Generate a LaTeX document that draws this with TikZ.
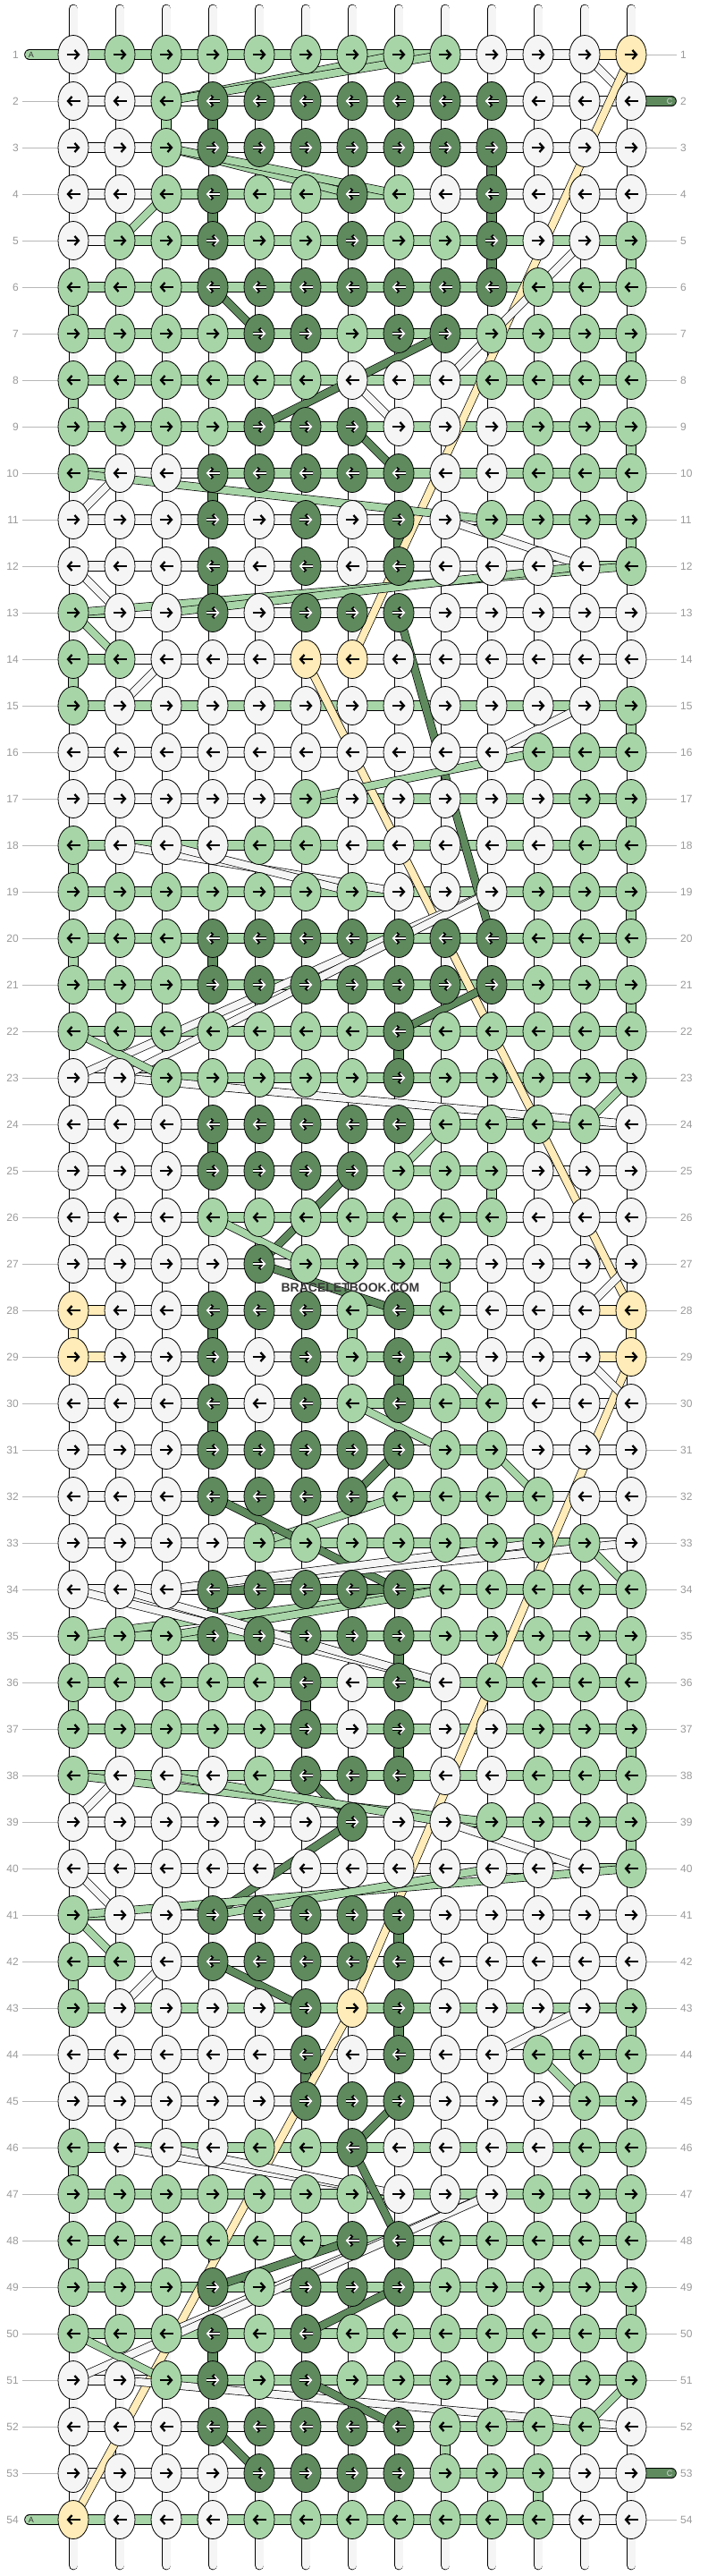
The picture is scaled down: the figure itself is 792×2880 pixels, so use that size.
\documentclass[tikz,border=0pt]{standalone}
\usepackage{fontspec}
\setmainfont{Liberation Sans}
\usetikzlibrary{arrows.meta,shapes.geometric}
\definecolor{kW}{HTML}{F5F5F5}
\definecolor{kG}{HTML}{A8D5A8}
\definecolor{kD}{HTML}{5E8A5E}
\definecolor{kY}{HTML}{FFECB8}
\definecolor{labgray}{HTML}{9A9A9A}
\pgfdeclarelayer{bg}
\pgfdeclarelayer{tubes}
\pgfdeclarelayer{bars}
\pgfdeclarelayer{diag}
\pgfsetlayers{bg,tubes,bars,diag,main}
\newcount\kc
\tikzset{
 knot/.style={ellipse,draw,line width=0.8pt,minimum width=34pt,minimum height=43pt,inner sep=0pt},
 bar/.style={line width=0.8pt,double=#1,double distance=10pt},
 diag/.style={line width=0.7pt,double=#1,double distance=8pt},
 tube/.style={line width=0.8pt,double=kW,double distance=9pt,line cap=round},
 arrb/.style={line width=2.3pt,black,-{Straight Barb[length=4.5pt,width=10pt]}},
 arrw/.style={line width=1.5pt,white,-{Straight Barb[length=4.5pt,width=10pt]}},
 arro/.style={line width=3.7pt,black,-{Straight Barb[length=5pt,width=11.5pt]}},
 lab/.style={text=labgray,font=\fontsize{12}{12}\selectfont,inner sep=0pt},
 glines/.style={draw=labgray!70,line width=0.9pt},
 tail/.style={font=\fontsize{9}{9}\selectfont,inner sep=0pt},
}
\def\currow{1}
\newcommand\mkknot[3]{%
 \edef\cc{#1}%
 \node[knot,fill=k#3] (k\cc-#2) at ({30+52*\cc},{9+52*#2}) {};
 \ifodd#2\relax\def\axa{(-7.5)}\def\axb{7.5}\else\def\axa{7.5}\def\axb{(-7.5)}\fi
 \if D#3%
  \draw[arro] ({30+52*\cc+\axa},{9+52*#2}) -- ({30+52*\cc+\axb},{9+52*#2});
  \draw[arrw] ({30+52*\cc+\axa},{9+52*#2}) -- ({30+52*\cc+\axb},{9+52*#2});
 \else
  \draw[arrb] ({30+52*\cc+\axa},{9+52*#2}) -- ({30+52*\cc+\axb},{9+52*#2});
 \fi}
\def\knotloop#1{\ifx#1\relax\else\advance\kc by 1 \mkknot{\number\kc}{\currow}{#1}\expandafter\knotloop\fi}
\newcommand\mkbar[2]{\edef\cc{#1}\pgfmathtruncatemacro\cn{\cc+1}\draw[bar=k#2] (k\cc-\currow.center) -- (k\cn-\currow.center);}
\def\barloop#1{\ifx#1\relax\else\advance\kc by 1 \mkbar{\number\kc}{#1}\expandafter\barloop\fi}
\newcommand\kr[3]{\def\currow{#1}\kc=0 \knotloop#2\relax \kc=0 \begin{pgfonlayer}{bars}\barloop#3\relax\end{pgfonlayer}}
\newcommand\vs[3]{\pgfmathtruncatemacro\rn{#2+1}\draw[bar=k#3] (k#1-#2.center) -- (k#1-\rn.center);}
\newcommand\dg[5]{\draw[diag=k#1] (k#2-#3.center) -- (k#4-#5.center);}
\begin{document}
\begin{tikzpicture}[x=1pt,y=-1pt]
\begin{pgfonlayer}{bg}
\fill[white] (0,0) rectangle (792,2880);
\end{pgfonlayer}
\useasboundingbox (0,0) rectangle (792,2880);
\begin{pgfonlayer}{tubes}
\foreach \c in {1,...,13}{
 \coordinate (tt\c) at ({30+52*\c},10);
 \coordinate (tb\c) at ({30+52*\c},2868);
 \draw[tube] (tt\c) -- (tb\c);
}
\end{pgfonlayer}
\kr{1}{WGGGGGGGGWWWY}{GGGGGGGGWWWY}
\kr{2}{WWGDDDDDDDWWW}{WWWWWWWWWWWW}
\kr{3}{WWGDDDDDDDWWW}{WWWWWWWWWWWW}
\kr{4}{WWGDGGDGWDWWW}{WWGGGGGWWWWW}
\kr{5}{WGGDGGDGGDWWG}{WGGGGGGGGGGG}
\kr{6}{GGGDDDDDDDGGG}{GGGGGGGGGGGG}
\kr{7}{GGGGDDGDDGGGG}{GGGGGGGGGGGG}
\kr{8}{GGGGGGWWWGGGG}{GGGGGGGGGGGG}
\kr{9}{GGGGDDDWWWGGG}{GGGGGGGGGGGG}
\kr{10}{GWWDDDDDWWGGG}{GWWGGGGGGGGG}
\kr{11}{WWWDWDWDWGGGG}{WWWWWWWWWGGG}
\kr{12}{WWWDWDWDWWWWG}{WWWWWWWWWWWG}
\kr{13}{GWWDWDDDWWWWW}{GWWWWWWWWWWW}
\kr{14}{GGWWWYYWWWWWW}{GWWWWWWWWWWW}
\kr{15}{GWWWWWWWWWWWG}{GGGGGGGGGGGG}
\kr{16}{WWWWWWWWWWGGG}{WWWWWWWWWWGG}
\kr{17}{WWWWWGWWWWWGG}{WWWWWGGGGGGG}
\kr{18}{GWWWGGWWWWWGG}{GGGGGGGGGGGG}
\kr{19}{GGGGGGGWWWGGG}{GGGGGGGGGGGG}
\kr{20}{GGGDDDDDDDGGG}{GGGGGGGGGGGG}
\kr{21}{GGGDDDDDDDGGG}{GGGGGGGGGGGG}
\kr{22}{GGGGGGGDGGGGG}{GGGGGGGGGGGG}
\kr{23}{WWGGGGGDGGGGG}{WWGGGGGGGGGG}
\kr{24}{WWWDDDDDGGGGW}{WWWWWWWWGGGW}
\kr{25}{WWWDDDDGGGWWW}{WWWWWWWGGWWW}
\kr{26}{WWWGGGGGGGWWW}{WWWGGGGGGWWW}
\kr{27}{WWWWDGGGGWWWW}{WWWWWGGGWWWW}
\kr{28}{YWWDDDGDGWWWY}{YWWWWWGGWWWY}
\kr{29}{YWWDWDGDGWWWY}{YWWWWWGGWWWY}
\kr{30}{WWWDWDGDGGWWW}{WWWWWWGGGWWW}
\kr{31}{WWWDDDDDGGWWW}{WWWWWWWWGWWW}
\kr{32}{WWWDDDDGGGGWW}{WWWWWWWGGGWW}
\kr{33}{WWWWGGGGGGGGW}{WWWWGGGGGGGW}
\kr{34}{WWWDDDDDGGGGG}{WWWDDDDGGGGG}
\kr{35}{GGGDDDDDGGGGG}{GGGGGGGGGGGG}
\kr{36}{GGGGGDWDWGGGG}{GGGGGGGGGGGG}
\kr{37}{GGGGGDWDWWGGG}{GGGGGGGGGGGG}
\kr{38}{GWWWGDDDWWGGG}{GGGGGGGGGGGG}
\kr{39}{WWWWWWDWWGGGG}{WWWWWWWWGGGG}
\kr{40}{WWWWWWWWWWWWG}{WWWWWWWWWWWG}
\kr{41}{GWWDDDDDWWWWW}{GWWWWWWWWWWW}
\kr{42}{GGWDDDDDWWWWW}{GWWWWWWWWWWW}
\kr{43}{GWWWWDYDWWWWG}{GGGGGGGGGGGG}
\kr{44}{WWWWWDWDWWGGG}{WWWWWWWWWWGG}
\kr{45}{WWWWWDDDWWWGG}{WWWWWWWWWWWG}
\kr{46}{GWWWGGDWWWWGG}{GGGGGGGGGGGG}
\kr{47}{GGGGGGGWWWGGG}{GGGGGGGGGGGG}
\kr{48}{GGGGGGDDGGGGG}{GGGGGGGGGGGG}
\kr{49}{GGGDGDDDGGGGG}{GGGGGGGGGGGG}
\kr{50}{GGGDGDGGGGGGG}{GGGGGGGGGGGG}
\kr{51}{WWGDGDGGGGGGG}{WWGGGGGGGGGG}
\kr{52}{WWWDDDDDGGGGW}{WWWWWWWWGGGW}
\kr{53}{WWWWDDDDGGGWW}{WWWWWWWWGGWW}
\kr{54}{YWWWGGGGGGGWW}{GGGGGGGGGGWW}
% vertical coloured links
\begin{pgfonlayer}{bars}
\vs{3}{2}{G}\vs{4}{2}{D}\vs{10}{3}{D}\vs{4}{4}{D}\vs{10}{4}{D}\vs{10}{5}{D}\vs{13}{5}{G}
\vs{1}{6}{G}\vs{13}{7}{G}\vs{1}{8}{G}\vs{13}{9}{G}\vs{4}{10}{D}\vs{8}{11}{D}\vs{13}{11}{G}
\vs{4}{12}{D}\vs{1}{14}{G}\vs{13}{15}{G}\vs{13}{17}{G}\vs{1}{18}{G}\vs{13}{19}{G}\vs{4}{20}{D}
\vs{1}{20}{G}\vs{13}{21}{G}\vs{8}{22}{D}\vs{4}{24}{D}\vs{10}{25}{G}\vs{9}{27}{G}\vs{1}{28}{Y}
\vs{13}{28}{Y}\vs{4}{28}{D}\vs{7}{28}{G}\vs{8}{29}{D}\vs{4}{30}{D}\vs{4}{34}{D}\vs{8}{35}{D}
\vs{13}{35}{G}\vs{1}{36}{G}\vs{6}{36}{D}\vs{8}{37}{D}\vs{13}{37}{G}\vs{13}{39}{G}\vs{1}{42}{G}
\vs{8}{41}{D}\vs{8}{43}{D}\vs{6}{44}{D}\vs{13}{43}{G}\vs{1}{46}{G}\vs{13}{47}{G}\vs{1}{48}{G}
\vs{13}{49}{G}\vs{4}{50}{D}\vs{9}{52}{G}\vs{11}{53}{G}
\end{pgfonlayer}
% diagonal strands
\begin{pgfonlayer}{diag}
\dg{G}{8}{1}{3}{2}\dg{G}{9}{1}{3}{2}\dg{W}{12}{1}{13}{2}\dg{Y}{13}{1}{7}{14}
\dg{G}{3}{3}{7}{4}\dg{G}{3}{3}{8}{4}\dg{G}{3}{4}{2}{5}\dg{W}{12}{5}{9}{8}
\dg{D}{4}{6}{5}{7}\dg{D}{9}{7}{5}{9}\dg{W}{7}{8}{8}{9}\dg{D}{7}{9}{8}{10}
\dg{G}{1}{10}{10}{11}\dg{W}{2}{10}{1}{11}\dg{W}{9}{11}{12}{12}\dg{G}{13}{12}{1}{13}
\dg{G}{12}{12}{3}{13}\dg{W}{1}{12}{2}{13}\dg{G}{1}{13}{2}{14}\dg{W}{3}{14}{2}{15}
\dg{Y}{6}{14}{13}{28}\dg{D}{8}{13}{10}{20}\dg{W}{12}{15}{10}{16}\dg{G}{11}{16}{6}{17}
\dg{W}{2}{18}{8}{19}\dg{W}{3}{18}{7}{19}\dg{W}{10}{19}{1}{23}\dg{W}{10}{19}{2}{23}
\dg{D}{10}{21}{8}{22}\dg{G}{1}{22}{3}{23}\dg{W}{2}{23}{13}{24}\dg{G}{13}{23}{12}{24}
\dg{G}{9}{24}{8}{25}\dg{D}{7}{25}{5}{27}\dg{G}{4}{26}{6}{27}\dg{D}{5}{27}{8}{28}
\dg{W}{12}{28}{13}{27}\dg{Y}{13}{29}{7}{43}\dg{G}{9}{29}{10}{30}\dg{W}{12}{29}{13}{30}
\dg{G}{7}{30}{9}{31}\dg{G}{10}{31}{11}{32}\dg{D}{8}{31}{7}{32}\dg{G}{8}{32}{5}{33}
\dg{D}{4}{32}{6}{33}\dg{D}{6}{33}{8}{34}\dg{W}{13}{33}{3}{34}\dg{W}{11}{33}{3}{34}
\dg{G}{12}{33}{13}{34}\dg{G}{9}{34}{1}{35}\dg{G}{9}{34}{3}{35}\dg{W}{1}{34}{9}{36}
\dg{W}{2}{34}{9}{36}\dg{D}{6}{38}{7}{39}\dg{G}{1}{38}{10}{39}\dg{G}{3}{38}{9}{39}
\dg{W}{2}{38}{1}{39}\dg{W}{9}{39}{12}{40}\dg{D}{7}{39}{4}{41}\dg{G}{13}{40}{1}{41}
\dg{G}{10}{40}{4}{41}\dg{W}{1}{40}{2}{41}\dg{G}{1}{41}{2}{42}\dg{W}{3}{42}{2}{43}
\dg{D}{4}{42}{6}{43}\dg{Y}{7}{43}{1}{54}\dg{W}{12}{43}{10}{44}\dg{G}{11}{44}{12}{45}
\dg{D}{8}{45}{7}{46}\dg{W}{2}{46}{8}{47}\dg{W}{3}{46}{8}{47}\dg{D}{7}{46}{8}{48}
\dg{W}{10}{47}{3}{50}\dg{W}{10}{47}{1}{51}\dg{D}{7}{48}{4}{49}\dg{D}{8}{49}{6}{50}
\dg{G}{1}{50}{3}{51}\dg{W}{2}{51}{13}{52}\dg{D}{6}{51}{8}{52}\dg{G}{13}{51}{12}{52}
\dg{D}{4}{52}{5}{53}
\end{pgfonlayer}
% row labels
\foreach \r in {1,...,54}{
 \node[lab,anchor=east] (ll\r) at (21,{9+52*\r}) {\r};
 \node[lab,anchor=west] (lr\r) at (761,{9+52*\r}) {\r};
}
\begin{pgfonlayer}{tubes}
\foreach \r in {2,...,53}{\draw[glines] ([xshift=4pt]ll\r.east) -- (k1-\r.center);}
\foreach \r in {1,3,4,...,52,54}{\draw[glines] (k13-\r.center) -- ([xshift=-4pt]lr\r.west);}
\end{pgfonlayer}
% strand tails
\coordinate (tA1) at (33,61);
\coordinate (tA54) at (33,2817);
\coordinate (tC2) at (751,113);
\coordinate (tC53) at (751,2765);
\begin{pgfonlayer}{bars}
\draw[bar=kG,line cap=round] (tA1) -- (k1-1.center);
\draw[bar=kG,line cap=round] (tA54) -- (k1-54.center);
\draw[bar=kD,line cap=round] (k13-2.center) -- (tC2);
\draw[bar=kD,line cap=round] (k13-53.center) -- (tC53);
\end{pgfonlayer}
\node[tail,text=black!80] (nA1) at (35,61) {A};
\node[tail,text=black!80] (nA54) at (35,2817) {A};
\node[tail,text=white!85!black] (nC2) at (749,113) {C};
\node[tail,text=white!85!black] (nC53) at (749,2765) {C};
% watermark
\node[font=\bfseries\fontsize{14}{14}\selectfont,text=black!78,inner sep=0pt] (wm) at (392,1440) {BRACELETBOOK.COM};
\end{tikzpicture}
\end{document}
